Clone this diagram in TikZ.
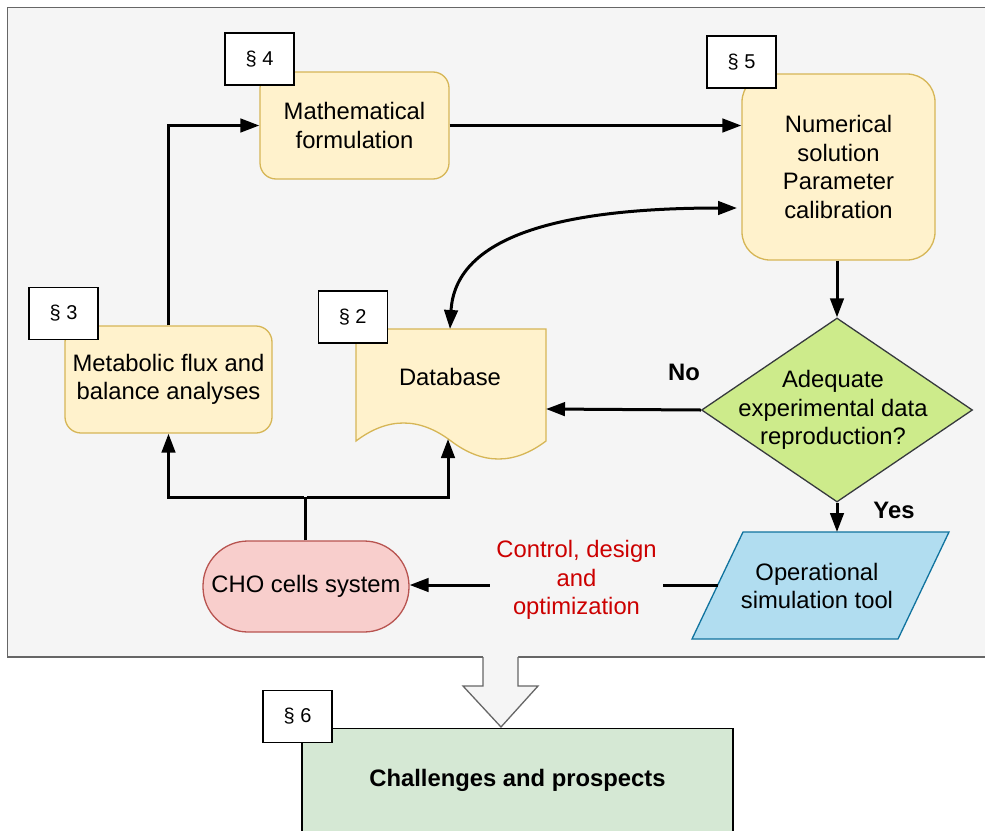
\documentclass[tikz,border=0pt]{standalone}
\usepackage{fontspec}
\setmainfont{Liberation Sans}
\usetikzlibrary{arrows.meta,shapes.geometric}
\definecolor{grayfill}{HTML}{F5F5F5}
\definecolor{graystroke}{HTML}{666666}
\definecolor{yfill}{HTML}{FFF2CC}
\definecolor{ystroke}{HTML}{D6B656}
\definecolor{gfill}{HTML}{CDEB8B}
\definecolor{gstroke}{HTML}{36393D}
\definecolor{bfill}{HTML}{B1DDF0}
\definecolor{bstroke}{HTML}{10739E}
\definecolor{rfill}{HTML}{F8CECC}
\definecolor{rstroke}{HTML}{B85450}
\definecolor{chalfill}{HTML}{D5E8D4}
\definecolor{redtext}{HTML}{CC0000}
\begin{document}
\begin{tikzpicture}[x=1pt,y=-1pt,
  font=\fontsize{23.8}{28.5}\selectfont,
  ybox/.style={draw=ystroke, fill=yfill, line width=1.3pt, align=center, inner sep=0pt},
  secbox/.style={draw=black, fill=white, line width=1.4pt, minimum width=69pt, minimum height=52pt, inner sep=0pt, font=\fontsize{20}{24}\selectfont},
  plain/.style={align=center, inner sep=0pt},
  conn/.style={line width=3pt},
  arr/.style={line width=3pt, -{Triangle[length=19pt,width=13.5pt]}},
  dblarr/.style={line width=3pt, {Triangle[length=19pt,width=13.5pt]}-{Triangle[length=19pt,width=13.5pt]}},
  lbl/.style={font=\fontsize{23.8}{28.5}\selectfont\bfseries, inner sep=0pt}
]
\clip (0,0) rectangle (985,830);
\fill[white] (0,0) rectangle (985,830);
% outer frame
\draw[graystroke, fill=grayfill, line width=1.3pt] (7.5,7.5) rectangle (995,657);

% block arrow to challenges
\fill[grayfill] (483,650) -- (483,686) -- (463,686) -- (501,727) -- (538,686) -- (518,686) -- (518,650) -- cycle;
\draw[graystroke, line width=1.3pt, line join=miter] (483,657) -- (483,686) -- (463,686) -- (501,727) -- (538,686) -- (518,686) -- (518,657);

% challenges
\node[draw=black, fill=chalfill, line width=1.4pt, minimum width=431pt, minimum height=104pt, anchor=north, inner sep=0pt, font=\fontsize{23.8}{28.5}\selectfont\bfseries] (chal) at (517.5,728) {Challenges and prospects};

% main boxes
\node[ybox, rounded corners=16pt, minimum width=189pt, minimum height=107pt] (math) at (354.5,125.5) {Mathematical\\formulation};
\node[ybox, rounded corners=28pt, minimum width=193pt, minimum height=186pt] (num) at (838.5,167) {Numerical\\solution\\Parameter\\calibration};
\node[ybox, rounded corners=16pt, minimum width=207pt, minimum height=107pt] (meta) at (168.5,379.5) {Metabolic flux and\\balance analyses};

% database document shape
\draw[draw=ystroke, fill=yfill, line width=1.3pt] (356,329) -- (546,329) -- (546,441) .. controls (514.3,465) and (482.7,465) .. (451,441) .. controls (419.3,417) and (387.7,417) .. (356,441) -- cycle;
\node[plain] (db) at (450,377) {Database};
\coordinate (dbtop) at (450,329);
\coordinate (dbright) at (546,409);
\coordinate (dbbot) at (448,439);

% decision
\node[diamond, draw=gstroke, fill=gfill, line width=1.3pt, minimum width=271pt, minimum height=184pt, inner sep=0pt] (dec) at (837,410) {};
\node[plain] (dectext) at (833,410) {Adequate\\experimental data\\reproduction?};

% operational parallelogram
\coordinate (op1) at (743,532);
\coordinate (op2) at (949,532);
\coordinate (op3) at (898,639);
\coordinate (op4) at (692,639);
\draw[draw=bstroke, fill=bfill, line width=1.3pt] (op1) -- (op2) -- (op3) -- (op4) -- cycle;
\node[plain] (op) at (817,586) {Operational\\simulation tool};
\coordinate (optop) at (837,532);
\coordinate (opleft) at (717.7,585);

% CHO
\node[draw=rstroke, fill=rfill, line width=1.3pt, rounded corners=45pt, minimum width=206pt, minimum height=91pt, inner sep=0pt] (cho) at (306,586.5) {CHO cells system};

% control label
\node[plain, text=redtext, minimum width=173pt] (ctl) at (576.5,580) {Control, design\\and\\optimization};

% labels
\node[lbl] (no) at (684,372) {No};
\node[lbl] (yes) at (894,510) {Yes};

% connectors
\draw[arr] (meta.north) |- (math.west);
\draw[arr] (math.east) -- (math.east -| num.west);
\coordinate (numin) at (737,208);
\draw[dblarr] (numin) .. controls (550,208) and (455,240) .. (dbtop);
\draw[arr] (dec.north |- num.south) -- (dec.north);
\draw[arr] (dec.west) -- (dbright);
\draw[arr] (dec.south) -- (optop);
\draw[conn] (opleft) -- (opleft -| ctl.east);
\draw[arr] (ctl.west |- opleft) -- (cho.east |- opleft);
\coordinate (junc) at (305,497);
\draw[conn] (cho.north -| junc) -- (junc);
\draw[arr] ([xshift=-1.5pt]junc) -| (meta.south);
\draw[arr] ([xshift=1.5pt]junc) -| (dbbot);

% section boxes
\node[secbox] (s4) at (259.5,59) {§ 4};
\node[secbox] (s5) at (741.5,62) {§ 5};
\node[secbox] (s3) at (63.5,313.5) {§ 3};
\node[secbox] (s2) at (352.7,317) {§ 2};
\node[secbox] (s6) at (297.5,716.5) {§ 6};
\end{tikzpicture}
\end{document}
